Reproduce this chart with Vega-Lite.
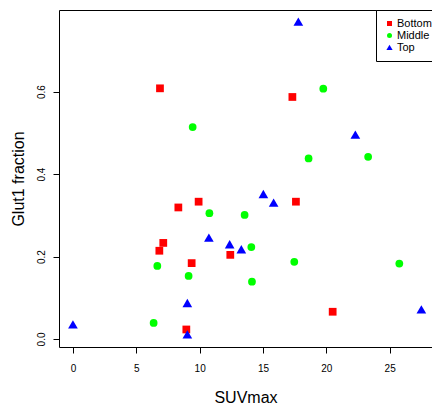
{
  "$schema": "https://vega.github.io/schema/vega-lite/v6.json",
  "width": 373,
  "height": 337,
  "autosize": {"type": "none"},
  "padding": {"left": 59, "top": 10, "right": 0, "bottom": 65},
  "config": {
    "font": "Liberation Sans",
    "view": {"stroke": "black", "strokeWidth": 1},
    "axis": {
      "domain": false,
      "grid": false,
      "tickColor": "black",
      "tickSize": 6,
      "labelFontSize": 10,
      "labelColor": "black",
      "titleFontSize": 16,
      "titleFontWeight": "normal",
      "titleColor": "black"
    }
  },
  "data": {
    "values": [
      {"SUVmax": 6.87, "Glut1": 0.608, "Position": "Bottom"},
      {"SUVmax": 17.32, "Glut1": 0.587, "Position": "Bottom"},
      {"SUVmax": 9.92, "Glut1": 0.333, "Position": "Bottom"},
      {"SUVmax": 17.6, "Glut1": 0.333, "Position": "Bottom"},
      {"SUVmax": 8.32, "Glut1": 0.319, "Position": "Bottom"},
      {"SUVmax": 7.13, "Glut1": 0.233, "Position": "Bottom"},
      {"SUVmax": 6.82, "Glut1": 0.214, "Position": "Bottom"},
      {"SUVmax": 9.37, "Glut1": 0.184, "Position": "Bottom"},
      {"SUVmax": 8.95, "Glut1": 0.023, "Position": "Bottom"},
      {"SUVmax": 12.42, "Glut1": 0.204, "Position": "Bottom"},
      {"SUVmax": 20.5, "Glut1": 0.066, "Position": "Bottom"},
      {"SUVmax": 9.45, "Glut1": 0.514, "Position": "Middle"},
      {"SUVmax": 19.76, "Glut1": 0.607, "Position": "Middle"},
      {"SUVmax": 18.6, "Glut1": 0.438, "Position": "Middle"},
      {"SUVmax": 23.3, "Glut1": 0.442, "Position": "Middle"},
      {"SUVmax": 10.77, "Glut1": 0.305, "Position": "Middle"},
      {"SUVmax": 13.55, "Glut1": 0.301, "Position": "Middle"},
      {"SUVmax": 14.08, "Glut1": 0.223, "Position": "Middle"},
      {"SUVmax": 17.47, "Glut1": 0.187, "Position": "Middle"},
      {"SUVmax": 14.13, "Glut1": 0.139, "Position": "Middle"},
      {"SUVmax": 6.66, "Glut1": 0.177, "Position": "Middle"},
      {"SUVmax": 9.13, "Glut1": 0.153, "Position": "Middle"},
      {"SUVmax": 6.37, "Glut1": 0.039, "Position": "Middle"},
      {"SUVmax": 25.76, "Glut1": 0.183, "Position": "Middle"},
      {"SUVmax": 17.79, "Glut1": 0.769, "Position": "Top"},
      {"SUVmax": 22.29, "Glut1": 0.495, "Position": "Top"},
      {"SUVmax": 15.03, "Glut1": 0.351, "Position": "Top"},
      {"SUVmax": 15.84, "Glut1": 0.33, "Position": "Top"},
      {"SUVmax": 10.73, "Glut1": 0.245, "Position": "Top"},
      {"SUVmax": 12.37, "Glut1": 0.229, "Position": "Top"},
      {"SUVmax": 13.29, "Glut1": 0.217, "Position": "Top"},
      {"SUVmax": 9.03, "Glut1": 0.0865, "Position": "Top"},
      {"SUVmax": 0.0, "Glut1": 0.0347, "Position": "Top"},
      {"SUVmax": 9.03, "Glut1": 0.0104, "Position": "Top"},
      {"SUVmax": 27.5, "Glut1": 0.071, "Position": "Top"}
    ]
  },
  "mark": {"type": "point", "filled": true, "opacity": 1, "strokeWidth": 0, "size": 60},
  "encoding": {
    "x": {
      "field": "SUVmax",
      "type": "quantitative",
      "scale": {"domain": [-1.1, 28.34], "nice": false, "zero": false},
      "axis": {"values": [0, 5, 10, 15, 20, 25], "title": "SUVmax", "labelPadding": 10, "titlePadding": 16}
    },
    "y": {
      "field": "Glut1",
      "type": "quantitative",
      "scale": {"domain": [-0.0195, 0.798], "nice": false, "zero": false},
      "axis": {"values": [0, 0.2, 0.4, 0.6], "format": ".1f", "title": "Glut1 fraction", "labelAngle": -90, "labelPadding": 7, "titlePadding": 10}
    },
    "color": {
      "field": "Position",
      "type": "nominal",
      "scale": {"domain": ["Bottom", "Middle", "Top"], "range": ["#ff0000", "#00ff00", "#0000ff"]},
      "legend": {
        "title": null,
        "orient": "none",
        "legendX": 317,
        "legendY": 0,
        "strokeColor": "black",
        "fillColor": "white",
        "padding": 8,
        "cornerRadius": 0,
        "labelFontSize": 11,
        "labelColor": "black",
        "symbolSize": 25,
        "symbolStrokeWidth": 0,
        "rowPadding": 0,
        "labelOffset": 2
      }
    },
    "shape": {
      "field": "Position",
      "type": "nominal",
      "scale": {"domain": ["Bottom", "Middle", "Top"], "range": ["square", "circle", "M0,-1.15L1.25,1L-1.25,1Z"]}
    }
  }
}
